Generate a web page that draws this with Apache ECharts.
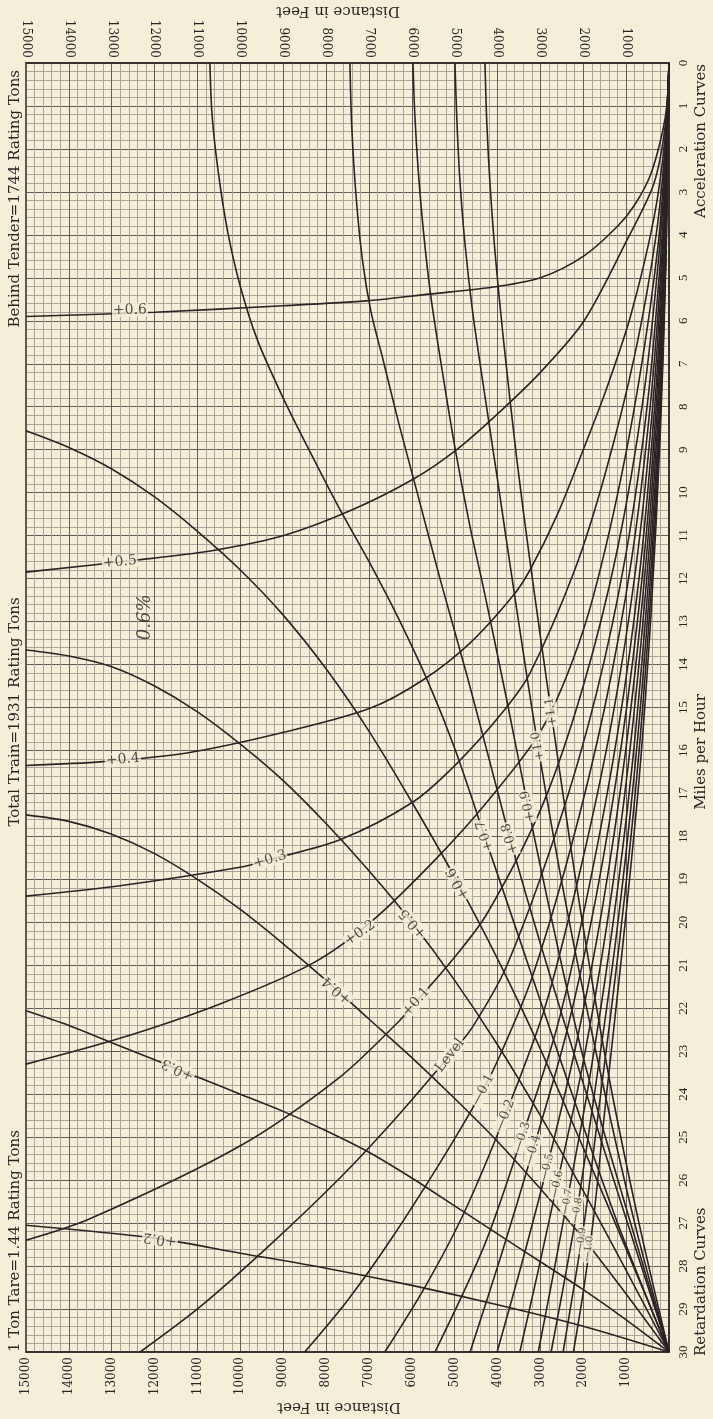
<!DOCTYPE html>
<html>
<head>
<meta charset="utf-8">
<title>Acceleration and Retardation Curves</title>
<script src="https://cdn.jsdelivr.net/npm/echarts@6/dist/echarts.min.js"></script>
<style>
html, body { margin: 0; padding: 0; background: #f5efda; }
#chart { width: 713px; height: 1419px; }
</style>
</head>
<body>
<div id="chart"></div>
<script>
// axis ranges: distance in feet (drawn right to left), speed in mph (drawn top to bottom)
var distMax = 15000;
var distStep = 1000;
var mphMax = 30;
var mphStep = 1;

// acceleration curves, [feet, mph], all start at rest
var accP06 = [[0,0],[40,0.9],[150,1.6],[430,2.6],[800,3.3],[1200,3.8],[2000,4.5],[3000,5.0],[4000,5.2],[5600,5.38],[7000,5.53],[9000,5.65],[12000,5.8],[15000,5.9]];
var accP05 = [[0,0],[80,1.4],[350,2.8],[970,4.1],[1980,6.0],[3000,7.2],[3960,8.13],[4930,8.98],[5940,9.67],[7415,10.41],[8967,10.99],[10600,11.34],[12073,11.53],[15000,11.85]];
var accP04 = [[0,0],[100,1.8],[350,3.6],[900,5.9],[1500,7.7],[2000,9.0],[2600,10.5],[3243,11.8],[3640,12.4],[4643,13.5],[5740,14.36],[6976,15.02],[8913,15.56],[11245,16.06],[13205,16.26],[15000,16.35]];
var accP03 = [[0,0],[80,1.8],[300,4.0],[800,6.8],[1500,9.6],[2200,11.8],[3243,14.2],[3873,15.1],[4946,16.3],[5973,17.2],[7677,18.08],[9310,18.54],[10010,18.72],[12810,19.15],[15000,19.39]];
var accP02 = [[0,0],[70,1.8],[250,4.2],[700,7.4],[1300,10.5],[2000,13.2],[2963,15.5],[4246,17.2],[5413,18.5],[6906,19.95],[8306,20.95],[10475,21.9],[12810,22.7],[15000,23.3]];
var accP01 = [[0,0],[60,1.8],[220,4.3],[600,7.8],[1200,11.3],[2000,14.5],[2963,17.3],[4246,19.8],[4993,20.8],[5900,21.85],[6346,22.35],[7677,23.6],[10000,25.2],[13510,26.9],[15000,27.4]];
var accLevel = [[0,0],[50,1.8],[180,4.3],[500,7.9],[1000,11.4],[1700,14.7],[2600,17.8],[3780,21.0],[4573,22.42],[5110,23.1],[5413,23.45],[6500,24.7],[7677,25.95],[9300,27.5],[10942,28.95],[12340,30]];
var accM01 = [[0,0],[45,1.8],[160,4.4],[440,8.0],[880,11.6],[1500,15.0],[2300,18.3],[3200,21.3],[3943,23.1],[4340,23.9],[5343,25.6],[6500,27.4],[7500,28.8],[8500,30]];
var accM02 = [[0,0],[40,1.8],[140,4.4],[390,8.1],[780,11.8],[1330,15.3],[2050,18.7],[2900,22.0],[3826,24.5],[4800,26.8],[5700,28.5],[6630,30]];
var accM03 = [[0,0],[36,1.8],[125,4.5],[350,8.2],[700,12.0],[1200,15.6],[1850,19.1],[2600,22.4],[3430,25.0],[4300,27.5],[5460,30]];
var accM04 = [[0,0],[33,1.8],[115,4.5],[320,8.3],[640,12.1],[1100,15.8],[1700,19.4],[2400,22.6],[3173,25.3],[3900,27.7],[4640,30]];
var accM05 = [[0,0],[30,1.8],[105,4.5],[295,8.4],[590,12.2],[1010,16.0],[1560,19.7],[2200,23.0],[2846,25.7],[3450,28.0],[4010,30]];
var accM06 = [[0,0],[28,1.8],[97,4.6],[272,8.5],[545,12.3],[935,16.2],[1440,20.0],[2030,23.4],[2613,26.1],[3050,28.1],[3480,30]];
var accM07 = [[0,0],[26,1.8],[90,4.6],[252,8.6],[505,12.4],[865,16.4],[1330,20.2],[1880,23.8],[2380,26.5],[2720,28.3],[3050,30]];
var accM08 = [[0,0],[24,1.8],[84,4.6],[235,8.6],[470,12.5],[805,16.5],[1240,20.4],[1740,24.0],[2146,26.7],[2450,28.4],[2750,30]];
var accM09 = [[0,0],[22,1.8],[78,4.7],[220,8.7],[440,12.6],[750,16.6],[1160,20.5],[1620,24.2],[1950,26.8],[2220,28.5],[2470,30]];
var accM10 = [[0,0],[21,1.8],[73,4.7],[206,8.7],[412,12.7],[700,16.7],[1085,20.6],[1500,24.4],[1750,26.8],[2000,28.6],[2230,30]];

// retardation curves, [feet, mph], all start at 30 mph
var retP02 = [[0,30],[2000,29.4],[4000,28.9],[6000,28.45],[8000,28.05],[10000,27.7],[12000,27.35],[15000,27.05]];
var retP03 = [[0,30],[1000,29.25],[2000,28.55],[3000,27.9],[4000,27.25],[5000,26.6],[6000,25.95],[7000,25.35],[8000,24.85],[9000,24.4],[10000,24.0],[11000,23.6],[12000,23.2],[13000,22.8],[14000,22.4],[15000,22.06]];
var retP04 = [[0,30],[1000,28.65],[2000,27.35],[3000,26.2],[4000,25.1],[5000,24.1],[6000,23.15],[7000,22.25],[8000,21.35],[9000,20.5],[10000,19.7],[11000,19.0],[12000,18.4],[13000,17.95],[14000,17.65],[15000,17.5]];
var retP05 = [[0,30],[1000,28.1],[2000,26.25],[3000,24.5],[4000,22.85],[5000,21.35],[6000,20.0],[7000,18.8],[8000,17.7],[9000,16.7],[10000,15.85],[11000,15.1],[12000,14.5],[13000,14.05],[14000,13.8],[15000,13.66]];
var retP06 = [[0,30],[1000,27.6],[2000,25.25],[3000,22.95],[4000,20.85],[5000,18.95],[6000,17.2],[7000,15.55],[8000,14.1],[9000,12.85],[10000,11.8],[11000,10.9],[12000,10.1],[13000,9.45],[14000,8.95],[15000,8.56]];
var retP07 = [[0,30],[1200,27.0],[2500,23.3],[3500,20.35],[4300,18.0],[5000,15.95],[5600,14.45],[6300,12.95],[7000,11.6],[7700,10.35],[8400,9.0],[9000,7.8],[9600,6.45],[10000,5.2],[10300,3.9],[10520,2.5],[10660,1.2],[10710,0]];
var retP08 = [[0,30],[1000,26.9],[2000,23.75],[3000,20.5],[3710,18.05],[4000,16.95],[4700,14.3],[5343,12.0],[5900,9.9],[6300,8.4],[6672,6.9],[6950,5.8],[7150,4.6],[7300,3.1],[7400,1.5],[7443,0]];
var retP09 = [[0,30],[1000,26.65],[2000,23.15],[2700,20.1],[3290,17.3],[3800,14.75],[4332,12.2],[4650,10.75],[4993,8.95],[5300,7.1],[5560,5.4],[5730,3.9],[5850,2.5],[5930,1.2],[5973,0]];
var retP10 = [[0,30],[800,27.0],[1600,23.5],[2400,19.6],[3056,15.9],[3600,12.4],[4000,9.7],[4332,7.5],[4580,5.8],[4760,4.2],[4880,2.7],[4950,1.3],[4993,0]];
var retP11 = [[0,30],[700,27.0],[1400,23.6],[2100,19.5],[2750,15.1],[3243,11.6],[3553,9.2],[3866,6.4],[4050,4.5],[4170,2.9],[4250,1.4],[4293,0]];

// grade labels written along the curves
var labelText = ['+0.6','+0.5','+0.4','+0.3','+0.2','+0.1','Level','—0.1','—0.2','—0.3','—0.4','—0.5','—0.6','—0.7','—0.8','—0.9','—1.0',
                 '+0.2','+0.3','+0.4','+0.5','+0.6','+0.7','+0.8','+0.9','+1.0','+1.1','0.6%'];
var labelDist = [12575,12810,12740,9310,7210,5900,5110,4340,3826,3430,3173,2846,2613,2380,2146,2050,1880,
                 11875,11455,7746,5973,4923,4293,3710,3290,3056,2750,12225];
var labelMph  = [5.75,11.61,16.21,18.54,20.25,21.85,23.1,23.9,24.5,25.0,25.3,25.7,26.1,26.5,26.7,27.4,27.6,
                 27.37,23.42,21.58,20.03,19.1,17.99,18.05,17.3,15.9,15.1,12.9];

// look of each label: turn in degrees (anticlockwise), font size
var labelTurn = [1,5,5,16,35,48,52,62,68,72,74,76,78,79,80,81,81,
                 172,154,138,130,118,108,106,101,100,98,90];
var labelSize = [14,14,14,14,14,14,14,13,13,12,12,11,11,10,10,10,10,
                 14,14,14,14,14,13,13,13,12,12,18];

var INK = '#2a2424';
var PAPER = '#f5efda';
var MAJOR = '#645c58';
var MINOR = '#aba49d';
var SERIF = 'DejaVu Serif';

var curves = [
  accP06, accP05, accP04, accP03, accP02, accP01, accLevel,
  accM01, accM02, accM03, accM04, accM05, accM06, accM07, accM08, accM09, accM10,
  retP02, retP03, retP04, retP05, retP06, retP07, retP08, retP09, retP10, retP11
];

var series = [];
for (var i = 0; i < curves.length; i++) {
  series.push({
    type: 'line',
    data: curves[i],
    symbol: 'none',
    smooth: 0.3,
    silent: true,
    z: 3,
    lineStyle: { color: INK, width: 1.6 }
  });
}

var labelData = [];
for (var j = 0; j < labelText.length; j++) {
  labelData.push({
    value: [labelDist[j], labelMph[j]],
    label: {
      formatter: labelText[j],
      rotate: labelTurn[j],
      fontSize: labelSize[j],
      fontStyle: labelText[j] === '0.6%' ? 'italic' : 'normal',
      backgroundColor: labelText[j] === '0.6%' ? 'transparent' : PAPER
    }
  });
}
series.push({
  type: 'scatter',
  data: labelData,
  symbolSize: 1,
  silent: true,
  z: 6,
  itemStyle: { color: 'rgba(0,0,0,0)' },
  label: {
    show: true,
    position: 'inside',
    color: INK,
    fontFamily: SERIF,
    padding: [0, 1]
  }
});

function sideText(text, x, y, align) {
  return {
    type: 'text', x: x, y: y, rotation: Math.PI / 2, silent: true,
    style: { text: text, font: '15px "DejaVu Serif"', fill: INK, align: align, verticalAlign: 'middle' }
  };
}
function flipText(text, x, y) {
  return {
    type: 'text', x: x, y: y, rotation: Math.PI, silent: true,
    style: { text: text, font: '15px "DejaVu Serif"', fill: INK, align: 'center', verticalAlign: 'middle' }
  };
}

function distAxis(pos, main) {
  return {
    type: 'value', min: 0, max: distMax, interval: distStep, inverse: true, position: pos,
    axisLine: { show: true, onZero: false, lineStyle: { color: INK, width: 1.5 } },
    axisTick: { show: false },
    axisLabel: {
      rotate: 90, margin: 5, color: INK, fontFamily: SERIF, fontSize: 12,
      formatter: function (v) { return v === 0 ? '' : String(v); }
    },
    splitLine: { show: main, lineStyle: { color: MAJOR, width: 1 } },
    minorTick: { show: false, splitNumber: 5 },
    minorSplitLine: { show: main, lineStyle: { color: MINOR, width: 1 } }
  };
}

var chart = echarts.init(document.getElementById('chart'));
chart.setOption({
  animation: false,
  backgroundColor: PAPER,
  grid: { left: 26, right: 44, top: 63, bottom: 67, show: true, borderColor: INK, borderWidth: 1.5 },
  xAxis: [distAxis('bottom', true), distAxis('top', false)],
  yAxis: {
    type: 'value', min: 0, max: mphMax, interval: mphStep, inverse: true, position: 'right',
    axisLine: { show: true, lineStyle: { color: INK, width: 1.5 } },
    axisTick: { show: false },
    axisLabel: { rotate: 90, margin: 8, color: INK, fontFamily: 'Liberation Serif', fontSize: 13 },
    splitLine: { show: true, lineStyle: { color: MAJOR, width: 1 } },
    minorTick: { show: false, splitNumber: 5 },
    minorSplitLine: { show: true, lineStyle: { color: MINOR, width: 1 } }
  },
  graphic: [
    sideText('Behind Tender=1744 Rating Tons', 15, 70, 'right'),
    sideText('Total Train=1931 Rating Tons', 15, 712, 'center'),
    sideText('1 Ton Tare=1.44 Rating Tons', 15, 1352, 'left'),
    sideText('Acceleration Curves', 701, 64, 'right'),
    sideText('Miles per Hour', 701, 752, 'center'),
    sideText('Retardation Curves', 701, 1356, 'left'),
    flipText('Distance in Feet', 338, 11),
    flipText('Distance in Feet', 339, 1407)
  ],
  series: series
});
</script>
</body>
</html>
